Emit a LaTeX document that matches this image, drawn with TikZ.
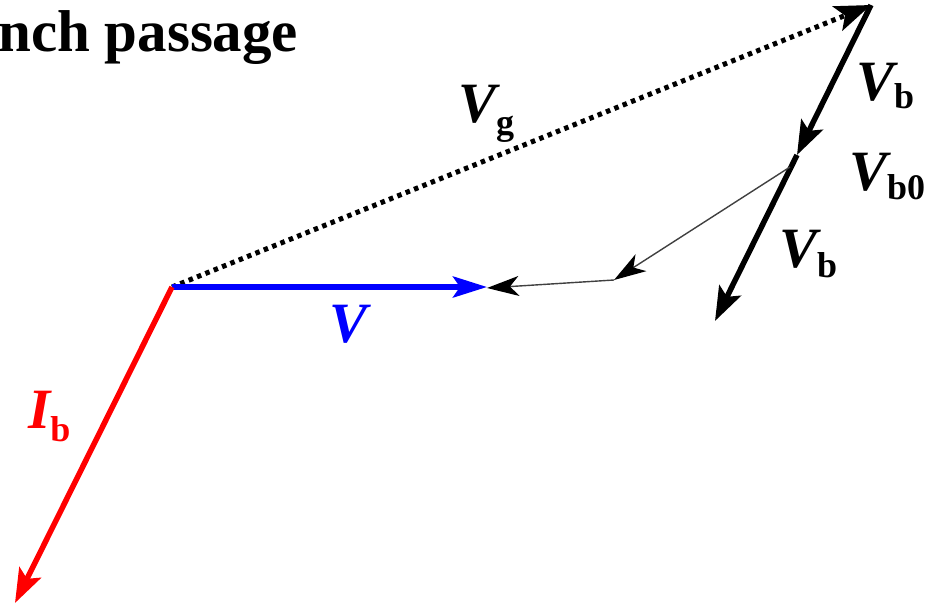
\documentclass[tikz,border=0pt]{standalone}
\usepackage{fontspec}
\setmainfont{Liberation Serif}
\usetikzlibrary{arrows.meta}
\begin{document}
\begin{tikzpicture}[x=1pt,y=-1pt,
  vec/.style={line width=5.5pt,-{Stealth[length=34pt,width=24pt,inset=7pt]}},
  thinvec/.style={line width=1.4pt,draw=black!75,-{Stealth[length=32pt,width=20pt,inset=9pt,black]}},
  dotvec/.style={line width=5pt,dash pattern=on 4.5pt off 4.5pt,-{Stealth[length=36pt,width=26pt,inset=8pt]}},
  lab/.style={anchor=base west,inner sep=0pt,font=\fontsize{57}{60}\selectfont\bfseries\itshape}
]
\useasboundingbox (0,0) rectangle (926,603);
\node[anchor=base west,inner sep=0pt,font=\fontsize{59}{62}\selectfont\bfseries] (title) at (-2,51) {nch passage};
\coordinate (O) at (172,287);
\coordinate (Vt) at (487,287);
\coordinate (T) at (871,5);
\coordinate (A1) at (797,155);
\coordinate (M) at (790,167);
\coordinate (B) at (715,321);
\coordinate (P) at (614,280);
\coordinate (Q) at (487,288);
\coordinate (I) at (15,603);
\draw[dotvec] (O) -- (T);
\draw[vec] (T) -- (A1);
\draw[vec] (A1) -- (B);
\draw[thinvec] (M) -- (P);
\draw[thinvec] (P) -- (Q);
\draw[vec,blue,-{Stealth[length=34pt,width=21pt,inset=7pt]}] (O) -- (Vt);
\draw[vec,red] (O) -- (I);
\node[lab] (lg) at (458,122) {V\raisebox{-12pt}{\textup{\fontsize{36}{40}\selectfont g}}};
\node[lab] (lb1) at (856,100) {V\raisebox{-8pt}{\textup{\fontsize{36}{40}\selectfont b}}};
\node[lab] (lb0) at (849,190) {V\raisebox{-9pt}{\textup{\fontsize{36}{40}\selectfont b0}}};
\node[lab] (lb2) at (779,267) {V\raisebox{-10pt}{\textup{\fontsize{36}{40}\selectfont b}}};
\node[lab,text=blue] (lv) at (329,342) {V};
\node[lab,text=red] (li) at (28,428) {I\raisebox{-13pt}{\textup{\fontsize{36}{40}\selectfont b}}};
\end{tikzpicture}
\end{document}
